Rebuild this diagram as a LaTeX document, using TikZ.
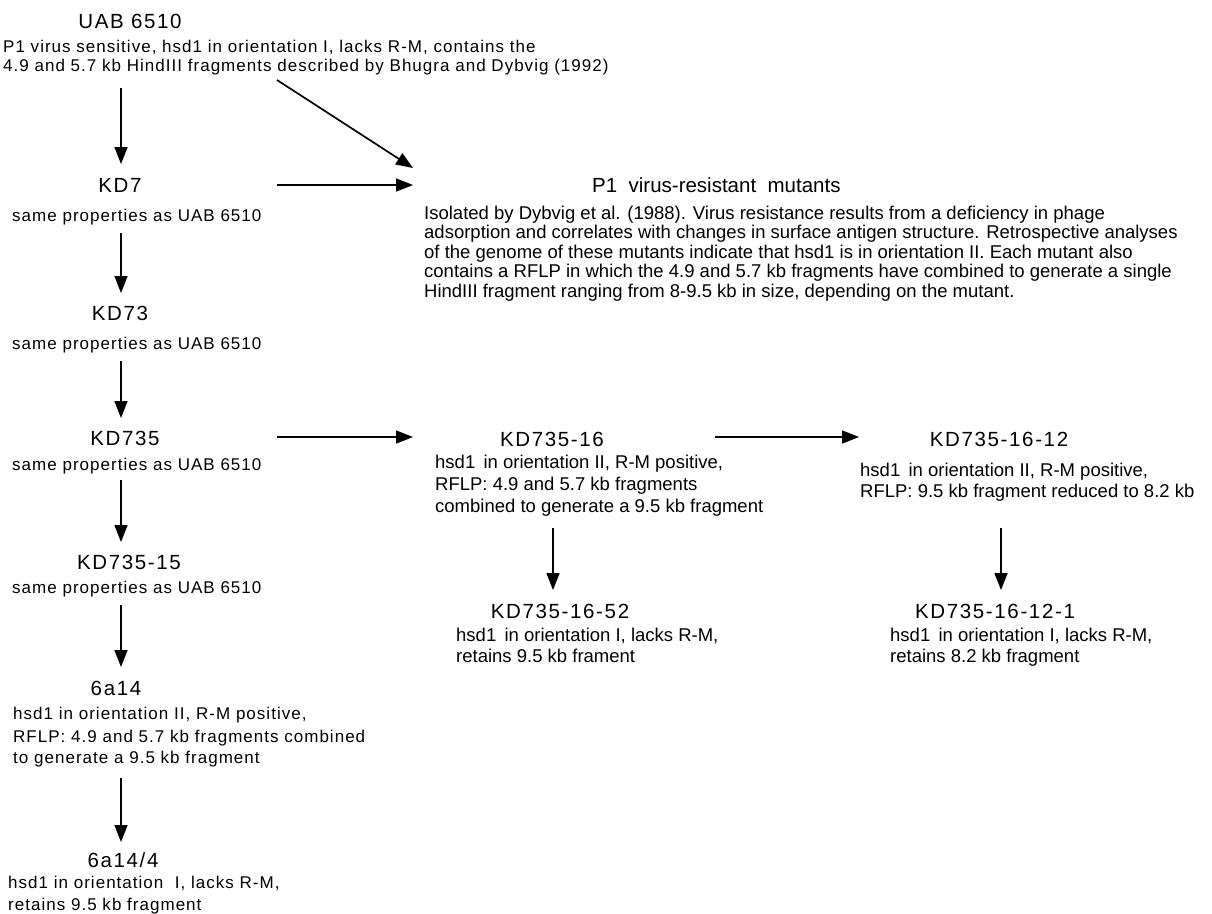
\documentclass[tikz,border=0pt]{standalone}
\usepackage{fontspec}
\setmainfont{Liberation Sans}
\newfontfamily\tfont[LetterSpace=8]{Liberation Sans}
\newfontfamily\lfont[LetterSpace=6]{Liberation Sans}
\newfontfamily\rfont{Liberation Sans}
\usetikzlibrary{arrows.meta}
\begin{document}
\begin{tikzpicture}[x=1pt,y=-1pt,
  ttl/.style={anchor=base, inner sep=0pt, font=\tfont\fontsize{20.5}{21}\selectfont},
  lt/.style={anchor=base west, inner sep=0pt, font=\lfont\fontsize{17}{18}\selectfont},
  rt/.style={anchor=base west, inner sep=0pt, font=\rfont\fontsize{18.5}{19}\selectfont},
  arr/.style={line width=1.7pt, -{Triangle[length=17pt,width=13pt]}}]
\useasboundingbox (0,0) rectangle (1212,913);
% left column
\node[ttl] (uab) at (130,28) {UAB 6510};
\node[lt] (uab1) at (3,52) {P1 virus sensitive, hsd1 in orientation I, lacks R-M, contains the};
\node[lt] (uab2) at (3,71) {4.9 and 5.7 kb HindIII fragments described by Bhugra and Dybvig (1992)};
\node[ttl] (kd7) at (120,192) {KD7};
\node[lt] (kd7s) at (12,221) {same properties as UAB 6510};
\node[ttl] (kd73) at (120,320) {KD73};
\node[lt] (kd73s) at (12,349) {same properties as UAB 6510};
\node[ttl] (kd735) at (125,445) {KD735};
\node[lt] (kd735s) at (12,470) {same properties as UAB 6510};
\node[ttl] (kd73515) at (129,569) {KD735-15};
\node[lt] (kd73515s) at (12,593) {same properties as UAB 6510};
\node[ttl] (a614) at (116,695) {6a14};
\node[lt] (a614l1) at (13,719) {hsd1 in orientation II, R-M positive,};
\node[lt] (a614l2) at (13,742) {RFLP: 4.9 and 5.7 kb fragments combined};
\node[lt] (a614l3) at (13,763) {to generate a 9.5 kb fragment};
\node[ttl] (a6144) at (123,867) {6a14/4};
\node[lt] (a6144l1) at (8,888) {hsd1 in orientation \ I, lacks R-M,};
\node[lt] (a6144l2) at (8,910) {retains 9.5 kb fragment};
% P1 mutants
\node[ttl, font=\rfont\fontsize{20.5}{21}\selectfont, anchor=base west] (p1) at (592,192) {P1 \ virus-resistant \ mutants};
\node[rt] (p1l1) at (424,219) {Isolated by Dybvig et al. (1988). Virus resistance results from a deficiency in phage};
\node[rt] (p1l2) at (424,238.5) {adsorption and correlates with changes in surface antigen structure. Retrospective analyses};
\node[rt] (p1l3) at (424,258) {of the genome of these mutants indicate that hsd1 is in orientation II. Each mutant also};
\node[rt] (p1l4) at (424,277.5) {contains a RFLP in which the 4.9 and 5.7 kb fragments have combined to generate a single};
\node[rt] (p1l5) at (424,297) {HindIII fragment ranging from 8-9.5 kb in size, depending on the mutant.};
% KD735-16
\node[ttl] (k16) at (552,446) {KD735-16};
\node[rt] (k16l1) at (435,468) {hsd1 \,in orientation II, R-M positive,};
\node[rt] (k16l2) at (435,490) {RFLP: 4.9 and 5.7 kb fragments};
\node[rt] (k16l3) at (435,512) {combined to generate a 9.5 kb fragment};
% KD735-16-12
\node[ttl] (k1612) at (999,446) {KD735-16-12};
\node[rt] (k1612l1) at (860,476) {hsd1 \,in orientation II, R-M positive,};
\node[rt] (k1612l2) at (860,497) {RFLP: 9.5 kb fragment reduced to 8.2 kb};
% KD735-16-52
\node[ttl] (k1652) at (560,618) {KD735-16-52};
\node[rt] (k1652l1) at (456,641) {hsd1 \,in orientation I, lacks R-M,};
\node[rt] (k1652l2) at (456,662) {retains 9.5 kb frament};
% KD735-16-12-1
\node[ttl] (k16121) at (995,618) {KD735-16-12-1};
\node[rt] (k16121l1) at (890,641) {hsd1 \,in orientation I, lacks R-M,};
\node[rt] (k16121l2) at (890,662) {retains 8.2 kb fragment};
% arrow end points
\coordinate (c1s) at (121,88);  \coordinate (c1e) at (121,164);
\coordinate (c2s) at (277,80);  \coordinate (c2e) at (413,168);
\coordinate (c3s) at (277,185); \coordinate (c3e) at (413,185);
\coordinate (c4s) at (121,233); \coordinate (c4e) at (121,293);
\coordinate (c5s) at (121,361); \coordinate (c5e) at (121,418);
\coordinate (c6s) at (277,437); \coordinate (c6e) at (413,437);
\coordinate (c7s) at (121,480); \coordinate (c7e) at (121,542);
\coordinate (c8s) at (121,605); \coordinate (c8e) at (121,667);
\coordinate (c9s) at (121,778); \coordinate (c9e) at (121,842);
\coordinate (c10s) at (715,437); \coordinate (c10e) at (859,437);
\coordinate (c11s) at (553,528); \coordinate (c11e) at (553,590);
\coordinate (c12s) at (1001,528); \coordinate (c12e) at (1001,590);
\draw[arr] (c1s) -- (c1e);
\draw[arr] (c2s) -- (c2e);
\draw[arr] (c3s) -- (c3e);
\draw[arr] (c4s) -- (c4e);
\draw[arr] (c5s) -- (c5e);
\draw[arr] (c6s) -- (c6e);
\draw[arr] (c7s) -- (c7e);
\draw[arr] (c8s) -- (c8e);
\draw[arr] (c9s) -- (c9e);
\draw[arr] (c10s) -- (c10e);
\draw[arr] (c11s) -- (c11e);
\draw[arr] (c12s) -- (c12e);
\end{tikzpicture}
\end{document}
